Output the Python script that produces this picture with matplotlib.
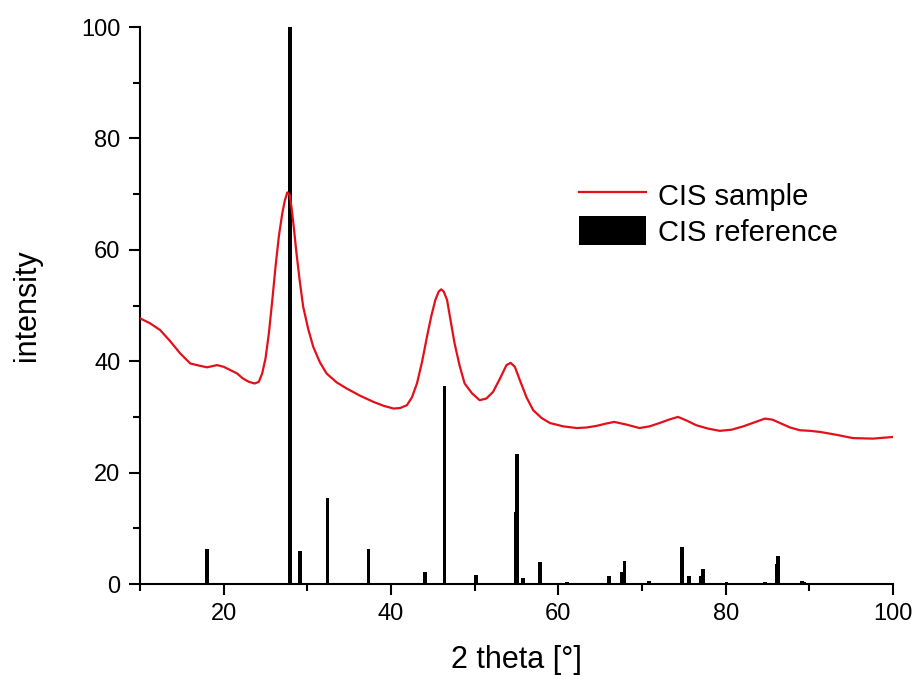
import matplotlib
matplotlib.use("Agg")
import matplotlib.pyplot as plt
from matplotlib.ticker import MultipleLocator

# CIS sample pattern
sample_2theta = [10.0, 11.2, 12.4, 13.6, 14.8, 16.0, 16.8, 18.0, 19.2, 20.0, 20.8, 21.6, 22.3, 23.0,
                 23.7, 24.2, 24.6, 25.0, 25.4, 25.8, 26.2, 26.6, 27.0, 27.3, 27.6, 27.9, 28.1, 28.4,
                 28.7, 29.1, 29.5, 30.1, 30.7, 31.5, 32.3, 33.5, 34.7, 36.3, 37.9, 39.1, 40.3, 41.1,
                 41.9, 42.5, 43.1, 43.7, 44.3, 44.8, 45.3, 45.7, 46.0, 46.3, 46.7, 47.1, 47.6, 48.2,
                 48.8, 49.7, 50.6, 51.4, 52.2, 53.0, 53.8, 54.3, 54.8, 55.4, 56.2, 57.0, 58.0, 59.0,
                 60.6, 62.2, 63.4, 64.6, 65.7, 66.7, 68.2, 69.7, 70.9, 72.1, 73.2, 74.3, 75.4, 76.5,
                 77.9, 79.3, 80.7, 82.1, 83.4, 84.7, 85.6, 86.5, 87.7, 88.9, 90.1, 91.3, 93.2, 95.2,
                 97.6, 100.0]
sample_intensity = [47.7, 46.8, 45.6, 43.6, 41.4, 39.6, 39.3, 38.9, 39.3, 39.0, 38.4, 37.8, 36.9, 36.3,
                    36.0, 36.3, 37.8, 40.5, 45.0, 50.8, 57.0, 62.5, 66.5, 68.8, 70.3, 69.8, 67.7, 63.8,
                    59.4, 54.3, 49.8, 45.8, 42.6, 39.8, 37.8, 36.2, 35.1, 33.8, 32.7, 32.0, 31.5, 31.6,
                    32.1, 33.5, 36.0, 39.8, 44.4, 48.0, 51.0, 52.5, 52.9, 52.5, 51.0, 47.5, 43.2, 39.2,
                    36.0, 34.2, 33.0, 33.3, 34.5, 36.8, 39.3, 39.7, 39.0, 36.6, 33.5, 31.2, 29.8, 28.9,
                    28.3, 28.0, 28.1, 28.4, 28.8, 29.1, 28.6, 28.0, 28.3, 28.9, 29.5, 30.0, 29.3, 28.5,
                    27.9, 27.5, 27.7, 28.3, 29.0, 29.7, 29.5, 28.9, 28.1, 27.6, 27.5, 27.3, 26.8, 26.2,
                    26.1, 26.4]

# CIS reference pattern (stick positions and relative intensities)
ref_2theta = [18.0, 27.9, 29.1, 32.4, 37.3, 44.1, 46.4, 50.2, 54.95, 55.1, 55.8, 57.8, 61.0,
              66.1, 67.6, 67.9, 70.8, 74.8, 75.6, 77.0, 77.3, 80.1, 84.7, 86.1, 86.3, 89.1, 89.4]
ref_intensity = [6.3, 100.0, 5.9, 15.5, 6.3, 2.2, 35.5, 1.7, 13.0, 23.3, 1.0, 4.0, 0.3,
                 1.5, 2.1, 4.1, 0.6, 6.6, 1.5, 1.4, 2.7, 0.3, 0.4, 3.6, 5.1, 0.6, 0.4]

plt.rcParams['font.family'] = ['Liberation Sans', 'DejaVu Sans']

fig = plt.figure(figsize=(9.17, 6.75), dpi=100)
ax = fig.add_axes([0.1527, 0.1348, 0.8211, 0.8252])

ax.bar(ref_2theta, ref_intensity, width=0.45, color='black', label='CIS reference', zorder=2)
ax.plot(sample_2theta, sample_intensity, color='#e3101a', lw=1.6, label='CIS sample', zorder=3)

ax.set_xlim(10, 100)
ax.set_ylim(0, 100)
ax.xaxis.set_major_locator(MultipleLocator(20))
ax.xaxis.set_minor_locator(MultipleLocator(10))
ax.yaxis.set_major_locator(MultipleLocator(20))
ax.yaxis.set_minor_locator(MultipleLocator(10))

for s in ['top', 'right']:
    ax.spines[s].set_visible(False)
for s in ['left', 'bottom']:
    ax.spines[s].set_linewidth(1.5)

ax.tick_params(which='major', direction='out', length=8, width=1.5, labelsize=17)
ax.tick_params(which='minor', direction='out', length=5, width=1.5)
ax.tick_params(axis='y', which='major', pad=6)
ax.tick_params(axis='x', which='major', pad=6, labelsize=17)

ax.set_xlabel('2 theta [°]', fontsize=22, labelpad=14)
ax.set_ylabel('intensity', fontsize=22, labelpad=28)

handles, labels = ax.get_legend_handles_labels()
order = [labels.index('CIS sample'), labels.index('CIS reference')]
ax.legend([handles[i] for i in order], [labels[i] for i in order],
          loc='upper left', bbox_to_anchor=(0.603, 0.772), bbox_transform=fig.transFigure,
          frameon=False, fontsize=21, handlelength=2.3, handleheight=1.15,
          handletextpad=0.4, labelspacing=0.2)

fig.savefig('out.png', dpi=100)
